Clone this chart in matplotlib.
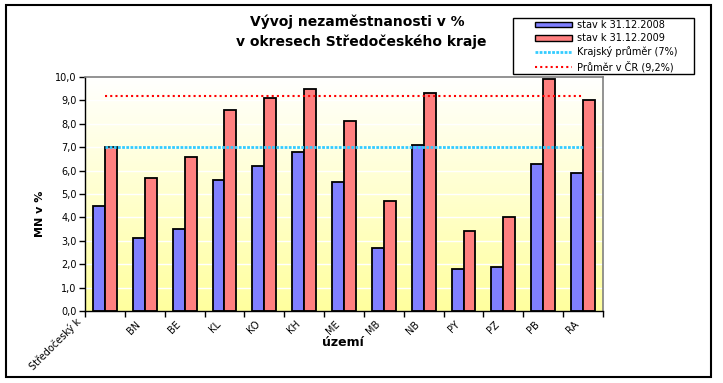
import matplotlib
matplotlib.use("Agg")
import matplotlib.pyplot as plt
import matplotlib.transforms as mtransforms
from matplotlib.patches import Rectangle, Patch
from matplotlib.lines import Line2D
import numpy as np

plt.rcParams['font.family'] = ['DejaVu Sans']

categories = ["Středočeský k", "BN", "BE", "KL", "KO", "KH", "ME", "MB", "NB", "PY", "PZ", "PB", "RA"]
stav_2008 = [4.5, 3.1, 3.5, 5.6, 6.2, 6.8, 5.5, 2.7, 7.1, 1.8, 1.9, 6.3, 5.9]
stav_2009 = [7.0, 5.7, 6.6, 8.6, 9.1, 9.5, 8.1, 4.7, 9.3, 3.4, 4.0, 9.9, 9.0]
kraj_prumer = 7.0
cr_prumer = 9.2
y_ticks = [0, 1, 2, 3, 4, 5, 6, 7, 8, 9, 10]
y_ticklabels = ["0,0", "1,0", "2,0", "3,0", "4,0", "5,0", "6,0", "7,0", "8,0", "9,0", "10,0"]

W, H = 723, 383
fig = plt.figure(figsize=(W / 100, H / 100), dpi=100)

def fx(px):
    return px / W

def fy(py):
    return 1 - py / H

# outer frame
fig.patches.append(Rectangle((fx(6), fy(377)), (711 - 6) / W, (377 - 5) / H,
                             transform=fig.transFigure, fill=False, edgecolor='black', linewidth=1.5))

ax_l, ax_r, ax_t, ax_b = 85, 603, 77, 311
ax = fig.add_axes([fx(ax_l), fy(ax_b), (ax_r - ax_l) / W, (ax_b - ax_t) / H])

n = len(categories)
x = np.arange(n)

# gradient background (white top -> pale yellow bottom)
grad = np.linspace(0, 1, 256)
top = np.array([1.0, 1.0, 1.0])
bot = np.array([1.0, 1.0, 0.62])
img = (top[None, :] + (bot - top)[None, :] * grad[:, None]).reshape(256, 1, 3)
ax.imshow(img, extent=(-0.5, n - 0.5, 0, 10), aspect='auto', zorder=0, origin='upper')
ax.set_xlim(-0.5, n - 0.5)
ax.set_ylim(0, 10)

# grid
for yv in y_ticks[1:-1]:
    ax.axhline(yv, color='white', linewidth=1.0, zorder=1)

w = 0.3
ax.bar(x - w / 2, stav_2008, width=w, color='#8080FF', edgecolor='black', linewidth=1.3, zorder=2)
ax.bar(x + w / 2, stav_2009, width=w, color='#FF8080', edgecolor='black', linewidth=1.3, zorder=2)

ax.plot(x, [kraj_prumer] * n, color='#33CCFF', linewidth=2.0, linestyle=(0, (1, 0.5)), zorder=3)
ax.plot(x, [cr_prumer] * n, color='#FF0000', linewidth=1.5, linestyle=(0, (1, 1.5)), zorder=3)

# spines
for s in ['top', 'right']:
    ax.spines[s].set_color('#808080')
    ax.spines[s].set_linewidth(1.2)
for s in ['left', 'bottom']:
    ax.spines[s].set_color('black')
    ax.spines[s].set_linewidth(1.0)

ax.set_yticks(y_ticks)
ax.set_yticklabels(y_ticklabels, fontsize=7)
ax.tick_params(axis='y', direction='out', length=4, width=1, pad=2)

ax.set_xticks(np.arange(-0.5, n, 1.0), minor=True)
ax.set_xticks(x)
ax.set_xticklabels(categories, fontsize=7, rotation=45, ha='right', va='top', rotation_mode='anchor')
ax.tick_params(axis='x', which='major', length=0, pad=0)
ax.tick_params(axis='x', which='minor', direction='out', length=4, width=1)

for i, lbl in enumerate(ax.get_xticklabels()):
    if i == 0:
        dx, dy = -30, -5
    else:
        dx, dy = -9, -8
    lbl.set_transform(lbl.get_transform() + mtransforms.ScaledTranslation(dx / 100, dy / 100, fig.dpi_scale_trans))

fig.text(fx(40), fy(214), "MN v %", rotation=90, ha='center', va='center', fontsize=8, fontweight='bold')
fig.text(fx(343), fy(343), "území", ha='center', va='center', fontsize=9, fontweight='bold')

fig.text(fx(357), fy(22), "Vývoj nezaměstnanosti v %", ha='center', va='center',
         fontsize=10, fontweight='bold')
fig.text(fx(361), fy(42), "v okresech Středočeského kraje", ha='center', va='center',
         fontsize=10, fontweight='bold')

# legend box
fig.patches.append(Rectangle((fx(513), fy(74)), (694 - 513) / W, (74 - 18) / H,
                             transform=fig.transFigure, fill=True, facecolor='white',
                             edgecolor='black', linewidth=1.0, zorder=5))
handles = [Patch(facecolor='#8080FF', edgecolor='black', linewidth=1.0),
           Patch(facecolor='#FF8080', edgecolor='black', linewidth=1.0),
           Line2D([0], [0], color='#33CCFF', linewidth=2.0, linestyle=(0, (1, 0.5))),
           Line2D([0], [0], color='#FF0000', linewidth=1.5, linestyle=(0, (1, 1.5)))]
labels = ["stav k 31.12.2008", "stav k 31.12.2009", "Krajský průměr (7%)", "Průměr v ČR (9,2%)"]
leg = fig.legend(handles, labels, loc='upper left', bbox_to_anchor=(fx(535), fy(20)),
                 fontsize=7, frameon=False,
                 handlelength=3.8, handleheight=0.5, handletextpad=0.5, labelspacing=0.33,
                 borderpad=0, borderaxespad=0)
leg.set_zorder(6)

fig.savefig("out.png", dpi=100)
